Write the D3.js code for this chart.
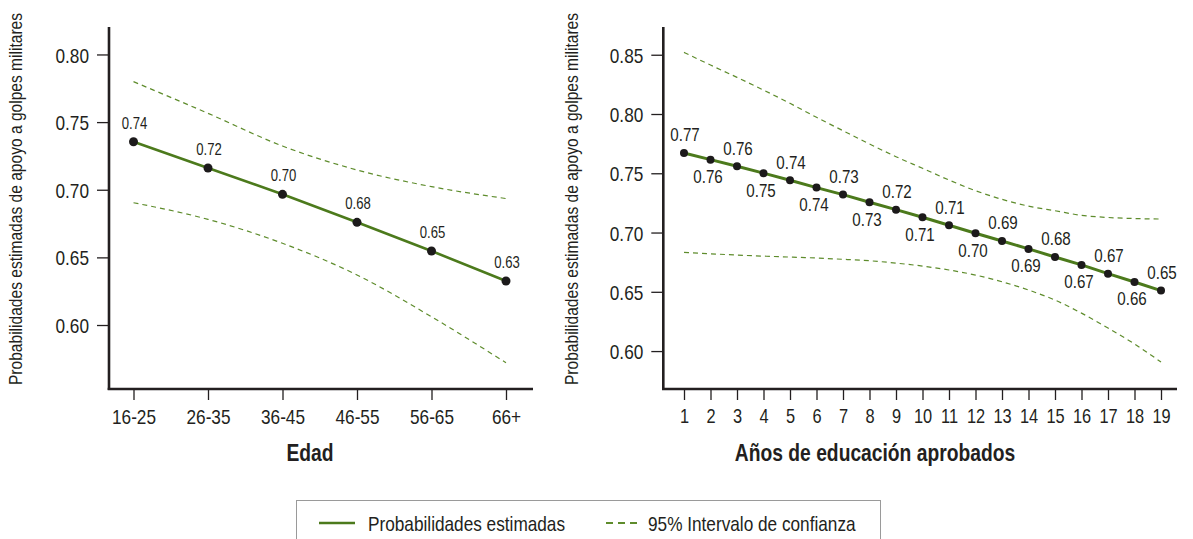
<!DOCTYPE html>
<html><head><meta charset="utf-8">
<script src="https://cdn.jsdelivr.net/npm/d3@7"></script>
<style>html,body{margin:0;padding:0;background:#fff;}svg{display:block;}</style>
</head><body>
<svg id="chart" width="1193" height="539"></svg>
<script>
// ---------- DATA ----------
const ageCategories = ["16-25","26-35","36-45","46-55","56-65","66+"];
const ageProb  = [0.7355, 0.7161, 0.6966, 0.6759, 0.6547, 0.6325];
const ageUpper = [0.7799, 0.7565, 0.7323, 0.7146, 0.7023, 0.6935];
const ageLower = [0.6904, 0.6781, 0.6604, 0.6370, 0.6061, 0.5721];
const ageTicks = [0.60, 0.65, 0.70, 0.75, 0.80];

const eduCategories = ["1","2","3","4","5","6","7","8","9","10","11","12","13","14","15","16","17","18","19"];
const eduProb  = [0.7671, 0.7615, 0.7559, 0.7501, 0.7441, 0.7379, 0.7320, 0.7256, 0.7193, 0.7129, 0.7061, 0.6994, 0.6929, 0.6862, 0.6794, 0.6727, 0.6653, 0.6583, 0.6510];
const eduUpper = [0.8520, 0.8413, 0.8309, 0.8202, 0.8090, 0.7972, 0.7859, 0.7747, 0.7640, 0.7542, 0.7443, 0.7353, 0.7280, 0.7223, 0.7184, 0.7145, 0.7127, 0.7118, 0.7114];
const eduLower = [0.6833, 0.6821, 0.6810, 0.6801, 0.6793, 0.6785, 0.6774, 0.6762, 0.6742, 0.6717, 0.6684, 0.6641, 0.6585, 0.6515, 0.6430, 0.6320, 0.6194, 0.6060, 0.5907];
const eduTicks = [0.60, 0.65, 0.70, 0.75, 0.80, 0.85];

const yTitle = "Probabilidades estimadas de apoyo a golpes militares";
const ageTitle = "Edad";
const eduTitle = "Años de educación aprobados";
const legendLabels = ["Probabilidades estimadas", "95% Intervalo de confianza"];

// ---------- STYLE ----------
const GREEN = "#4c7a1c", DASH_GREEN = "#5e8c2c", AXIS = "#231f20", TXT = "#231f20";
const svg = d3.select("#chart");

// font detection: use a narrow font if installed, otherwise squeeze regular
function measure(fam){
  const t = svg.append("text").attr("font-family", fam).attr("font-size", 100).text("Probabilidades");
  const w = t.node().getComputedTextLength(); t.remove(); return w;
}
let FAM = "'Liberation Sans Narrow'", SX = 1;
const wn = measure("'Liberation Sans Narrow', 'DejaVu Serif'"), wr = measure("'Liberation Sans'");
if (!(wn / wr < 0.9)) { FAM = "'Liberation Sans', Arial, sans-serif"; SX = 0.82; }

function T(parent, x, y, str, o = {}) {
  return parent.append("text")
    .attr("transform", `translate(${x},${y})${o.rot ? " rotate(-90)" : ""} scale(${SX},1)`)
    .attr("font-family", FAM)
    .attr("font-size", o.size || 16)
    .attr("font-weight", o.weight || "normal")
    .attr("text-anchor", o.anchor || "middle")
    .attr("fill", TXT)
    .text(str);
}

function panel(cfg) {
  const g = svg.append("g");
  const x = d3.scalePoint().domain(cfg.cats).range(cfg.xRange);
  const y = d3.scaleLinear().domain(cfg.yDomain).range([cfg.bottom, cfg.top]);

  // axes
  const ya = g.append("g").attr("transform", `translate(${cfg.axisX},0)`)
    .call(d3.axisLeft(y).tickValues(cfg.ticks).tickFormat(d3.format(".2f")).tickSize(12).tickPadding(8));
  ya.select(".domain").remove();
  ya.selectAll(".tick line").attr("stroke", AXIS).attr("stroke-width", 1.3);
  ya.selectAll(".tick text").attr("font-family", FAM).attr("font-size", 21).attr("fill", TXT)
    .attr("x", -20 / SX).attr("dy", "0.36em").attr("transform", `scale(${SX},1)`);

  const xa = g.append("g").attr("transform", `translate(0,${cfg.bottom})`)
    .call(d3.axisBottom(x).tickSize(11).tickSizeOuter(0).tickPadding(9));
  xa.select(".domain").remove();
  xa.selectAll(".tick line").attr("stroke", AXIS).attr("stroke-width", 1.3);
  xa.selectAll(".tick text").attr("font-family", FAM).attr("font-size", cfg.xTickSize).attr("fill", TXT)
    .attr("transform", `scale(${SX},1)`);

  g.append("line").attr("x1", cfg.axisX).attr("x2", cfg.axisX).attr("y1", cfg.top).attr("y2", cfg.bottom + 1)
    .attr("stroke", AXIS).attr("stroke-width", 2.6);
  g.append("line").attr("x1", cfg.axisX - 1.3).attr("x2", cfg.axisEnd).attr("y1", cfg.bottom).attr("y2", cfg.bottom)
    .attr("stroke", AXIS).attr("stroke-width", 2.6);

  // confidence interval
  const ciLine = d3.line().x((d, i) => x(cfg.cats[i])).y(d => y(d)).curve(d3.curveMonotoneX);
  [cfg.upper, cfg.lower].forEach(arr => {
    g.append("path").attr("d", ciLine(arr)).attr("fill", "none")
      .attr("stroke", DASH_GREEN).attr("stroke-width", 1.2).attr("stroke-dasharray", "5,4");
  });

  // estimated probability
  const pLine = d3.line().x((d, i) => x(cfg.cats[i])).y(d => y(d));
  g.append("path").attr("d", pLine(cfg.prob)).attr("fill", "none")
    .attr("stroke", GREEN).attr("stroke-width", cfg.lineW);
  g.selectAll("circle.pt").data(cfg.prob).enter().append("circle")
    .attr("cx", (d, i) => x(cfg.cats[i])).attr("cy", d => y(d)).attr("r", cfg.r).attr("fill", "#1c1a1b");

  cfg.prob.forEach((d, i) => {
    const above = cfg.alternate ? (i % 2 === 0) : true;
    const px = x(cfg.cats[i]), py = y(d);
    T(g, px + (above ? 1 : -2.5), above ? py - cfg.aboveGap : py + cfg.belowGap, d.toFixed(2), { size: cfg.labelSize });
  });

  // titles
  T(g, cfg.xTitleX, 461, cfg.xTitle, { size: 23.5, weight: "bold" });
  T(g, cfg.yTitleX, cfg.yTitleY, yTitle, { size: 19, rot: true });
}

panel({
  cats: ageCategories, prob: ageProb, upper: ageUpper, lower: ageLower, ticks: ageTicks,
  xRange: [133.5, 506], yDomain: [0.5527, 0.8203], top: 27, bottom: 389,
  axisX: 109, axisEnd: 533, xTickSize: 21, lineW: 2.6, r: 4.5,
  alternate: false, aboveGap: 13, belowGap: 23, labelSize: 16,
  xTitle: ageTitle, xTitleX: 310, yTitleX: 22, yTitleY: 199
});

panel({
  cats: eduCategories, prob: eduProb, upper: eduUpper, lower: eduLower, ticks: eduTicks,
  xRange: [684, 1161], yDomain: [0.568, 0.8734], top: 27, bottom: 389,
  axisX: 663.3, axisEnd: 1177, xTickSize: 20, lineW: 3, r: 4,
  alternate: true, aboveGap: 11.7, belowGap: 23.4, labelSize: 18.5,
  xTitle: eduTitle, xTitleX: 875, yTitleX: 578, yTitleY: 199
});

// legend
const lg = svg.append("g");
lg.append("rect").attr("x", 296.5).attr("y", 500.5).attr("width", 584).attr("height", 60)
  .attr("fill", "#fff").attr("stroke", "#9a9a9a").attr("stroke-width", 1);
lg.append("line").attr("x1", 319).attr("x2", 355).attr("y1", 523).attr("y2", 523)
  .attr("stroke", GREEN).attr("stroke-width", 2.6);
T(lg, 368, 530.5, legendLabels[0], { size: 21, anchor: "start" });
lg.append("line").attr("x1", 606).attr("x2", 638).attr("y1", 523).attr("y2", 523)
  .attr("stroke", DASH_GREEN).attr("stroke-width", 2.2).attr("stroke-dasharray", "7,5");
T(lg, 648, 530.5, legendLabels[1], { size: 21, anchor: "start" });
</script>
</body></html>
